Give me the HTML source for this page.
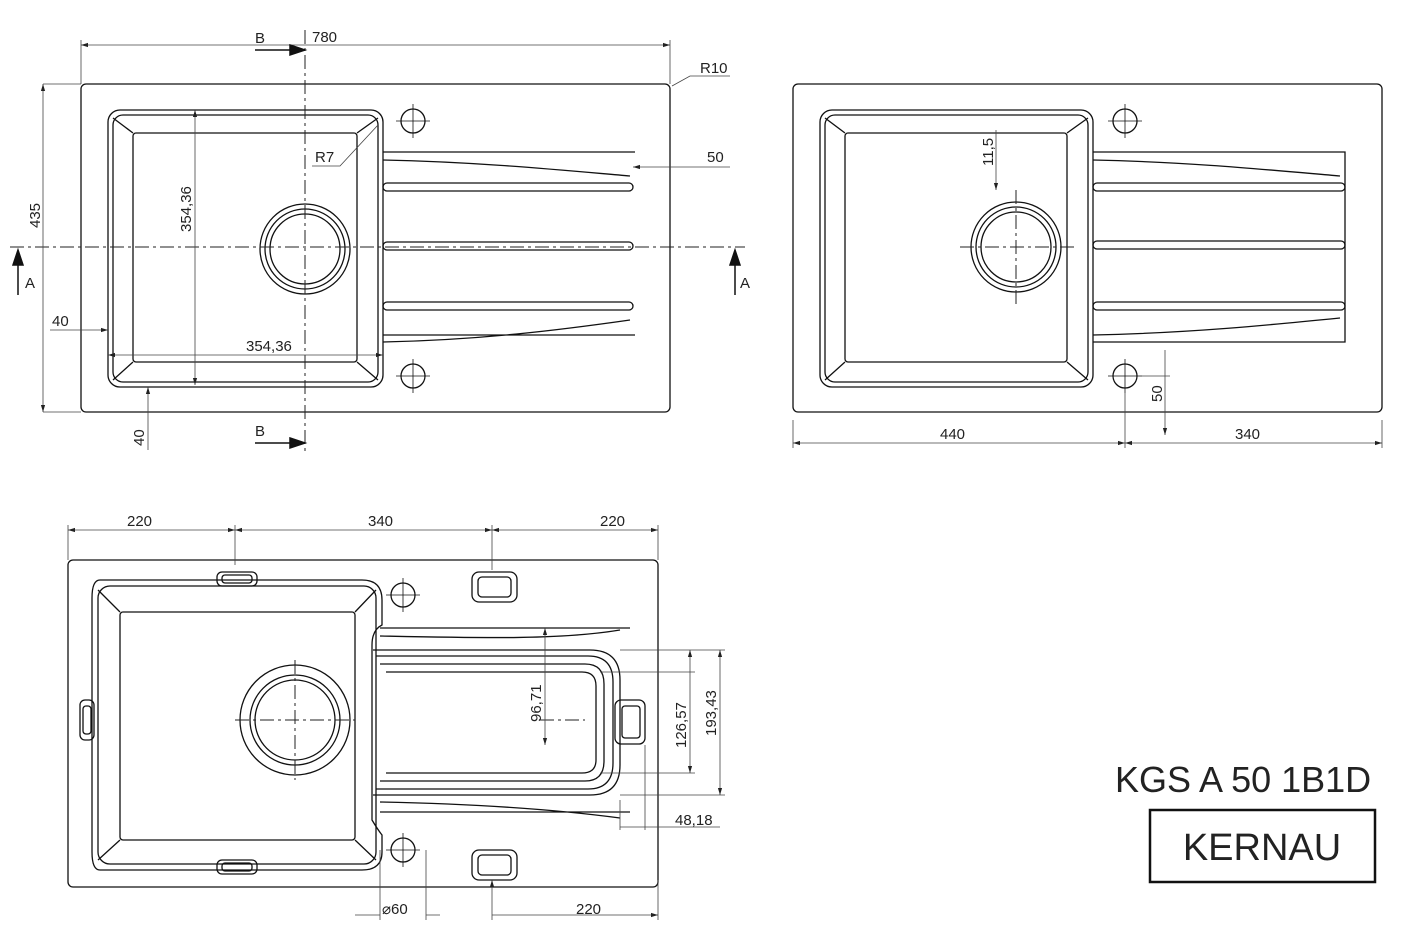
<!DOCTYPE html>
<html><head><meta charset="utf-8"><style>
html,body{margin:0;padding:0;background:#fff}
svg{display:block}
text{font-family:"Liberation Sans",sans-serif;fill:#222}
</style></head><body>
<svg width="1421" height="932" viewBox="0 0 1421 932" xmlns="http://www.w3.org/2000/svg">
<defs>
<marker id="ar" viewBox="0 0 10 10" refX="10" refY="5" markerWidth="9" markerHeight="9" orient="auto-start-reverse"><path d="M0,2 L10,5 L0,8 z" fill="#222"/></marker>
</defs>
<g fill="none" stroke="#111" stroke-width="1.3">
<!-- ========== TOP LEFT VIEW ========== -->
<rect x="81" y="84" width="589" height="328" rx="5"/>
<rect x="108" y="110" width="275" height="277" rx="12"/>
<rect x="113" y="115" width="265" height="267" rx="10"/>
<rect x="133" y="133" width="224" height="229" rx="3"/>
<path d="M113,118 L133,133 M378,118 L357,133 M113,380 L133,362 M378,380 L357,362"/>
<circle cx="305" cy="249" r="45"/><circle cx="305" cy="249" r="40"/><circle cx="305" cy="249" r="35"/>
<circle cx="413" cy="121" r="12"/><circle cx="413" cy="376" r="12"/>
<path d="M396,121 H430 M413,104 V138 M396,376 H430 M413,359 V393" stroke-width="0.8"/>
<path d="M383,152 H635 M383,160 C480,162 560,170 630,176 M383,342 C480,340 560,330 630,320 M383,335 H635"/>
<rect x="383" y="183" width="250" height="8" rx="4"/><rect x="383" y="242" width="250" height="8" rx="4"/><rect x="383" y="302" width="250" height="8" rx="4"/>
<!-- ========== TOP RIGHT VIEW ========== -->
<rect x="793" y="84" width="589" height="328" rx="5"/>
<rect x="820" y="110" width="273" height="277" rx="12"/>
<rect x="825" y="115" width="263" height="267" rx="10"/>
<rect x="845" y="133" width="222" height="229" rx="3"/>
<path d="M825,118 L845,133 M1088,118 L1067,133 M825,380 L845,362 M1088,380 L1067,362"/>
<circle cx="1016" cy="247" r="45"/><circle cx="1016" cy="247" r="40"/><circle cx="1016" cy="247" r="35"/>
<circle cx="1125" cy="121" r="12"/><circle cx="1125" cy="376" r="12"/>
<path d="M1108,121 H1142 M1125,104 V138 M1108,376 H1142 M1125,359 V393" stroke-width="0.8"/>
<path d="M1093,152 H1345 V342 H1093 M1093,160 C1190,162 1270,170 1340,176 M1093,335 C1190,333 1270,325 1340,318"/>
<rect x="1093" y="183" width="252" height="8" rx="4"/><rect x="1093" y="241" width="252" height="8" rx="4"/><rect x="1093" y="302" width="252" height="8" rx="4"/>
<!-- ========== BOTTOM VIEW ========== -->
<rect x="68" y="560" width="590" height="327" rx="5"/>
<path d="M100,580 H362 Q382,580 382,600 V625 Q372,630 372,645 V820 Q378,830 382,835 V852 Q382,870 362,870 H100 Q92,870 92,852 V598 Q92,580 100,580 Z"/>
<rect x="98" y="586" width="278" height="278" rx="12"/>
<rect x="120" y="612" width="235" height="228" rx="3"/>
<path d="M98,590 L120,612 M376,590 L355,612 M98,860 L120,840 M376,860 L355,840"/>
<circle cx="295" cy="720" r="55"/><circle cx="295" cy="720" r="45"/><circle cx="295" cy="720" r="40"/>
<circle cx="403" cy="595" r="12"/><circle cx="403" cy="850" r="12"/>
<path d="M386,595 H420 M403,578 V612 M386,850 H420 M403,833 V867" stroke-width="0.8"/>
<rect x="217" y="572" width="40" height="14" rx="5"/><rect x="222" y="575" width="30" height="8" rx="3"/>
<rect x="217" y="860" width="40" height="14" rx="5"/><rect x="222" y="863" width="30" height="8" rx="3"/>
<rect x="80" y="700" width="14" height="40" rx="5"/><rect x="83" y="706" width="8" height="28" rx="3"/>
<rect x="472" y="572" width="45" height="30" rx="7"/><rect x="478" y="577" width="33" height="20" rx="4"/>
<rect x="472" y="850" width="45" height="30" rx="7"/><rect x="478" y="855" width="33" height="20" rx="4"/>
<path d="M380,628 H630 M380,636 C480,638 560,640 620,630 M380,802 C480,804 560,810 620,818 M380,812 H630"/>
<path d="M373,650 H590 Q620,650 620,680 V765 Q620,795 590,795 H373"/>
<path d="M376,656 H588 Q613,656 613,682 V763 Q613,789 588,789 H376"/>
<path d="M380,664 H585 Q604,664 604,684 V761 Q604,781 585,781 H380"/>
<path d="M386,672 H582 Q596,672 596,686 V760 Q596,773 582,773 H386"/>
<rect x="615" y="700" width="30" height="44" rx="6"/><rect x="622" y="706" width="18" height="32" rx="3"/>
</g>
<!-- center lines -->
<g stroke="#222" stroke-width="1" stroke-dasharray="14,4,3,4" fill="none">
<path d="M10,247 H745 M305,30 V452"/>
<path d="M960,247 H1075 M1016,190 V305"/>
<path d="M235,720 H355 M295,660 V780 M540,720 H585"/>
</g>
<!-- dimension lines -->
<g stroke="#444" stroke-width="0.8" fill="none">
<path d="M81,40 V84 M670,40 V84 M43,84 H81 M43,412 H81"/>
<path d="M81,45 H670" marker-start="url(#ar)" marker-end="url(#ar)"/>
<path d="M43,84 V412" marker-start="url(#ar)" marker-end="url(#ar)"/>
<path d="M195,110 V385" marker-start="url(#ar)" marker-end="url(#ar)"/>
<path d="M108,355 H383" marker-start="url(#ar)" marker-end="url(#ar)"/>
<path d="M50,330 H108" marker-end="url(#ar)"/>
<path d="M148,387 V450" marker-start="url(#ar)"/>
<path d="M633,167 H730" marker-start="url(#ar)"/>
<path d="M672,86 L690,76 H730"/>
<path d="M312,166 H340 L378,125"/>
<path d="M793,420 V448 M1125,390 V448 M1382,420 V448"/>
<path d="M793,443 H1125" marker-start="url(#ar)" marker-end="url(#ar)"/>
<path d="M1125,443 H1382" marker-start="url(#ar)" marker-end="url(#ar)"/>
<path d="M1140,376 H1170 M1165,350 V376 M1165,376 V435" marker-end="url(#ar)"/>
<path d="M996,130 V190" marker-end="url(#ar)"/>
<path d="M68,525 V560 M235,525 V565 M492,525 V570 M658,525 V560"/>
<path d="M68,530 H235" marker-start="url(#ar)" marker-end="url(#ar)"/>
<path d="M235,530 H492" marker-start="url(#ar)" marker-end="url(#ar)"/>
<path d="M492,530 H658" marker-start="url(#ar)" marker-end="url(#ar)"/>
<path d="M492,880 V920 M658,880 V920 M492,915 H658" marker-start="url(#ar)" marker-end="url(#ar)"/>
<path d="M380,850 V920 M426,850 V920 M355,915 H380 M426,915 H440" />
<path d="M545,628 V745" marker-start="url(#ar)" marker-end="url(#ar)"/>
<path d="M620,650 H725 M620,795 H725 M600,672 H695 M600,773 H695"/>
<path d="M690,650 V773" marker-start="url(#ar)" marker-end="url(#ar)"/>
<path d="M720,650 V795" marker-start="url(#ar)" marker-end="url(#ar)"/>
<path d="M620,800 V830 M645,745 V830 M620,827 H720"/>
</g>
<!-- section arrows -->
<g stroke="#111" stroke-width="1.5" fill="#111">
<path d="M255,50 H290" /><path d="M290,45 L305,50 L290,55 z"/>
<path d="M255,443 H290" /><path d="M290,438 L305,443 L290,448 z"/>
<path d="M18,295 V265"/><path d="M13,265 L18,250 L23,265 z"/>
<path d="M735,295 V265"/><path d="M730,265 L735,250 L740,265 z"/>
</g>
<g font-size="15">
<text x="255" y="43">B</text><text x="255" y="436">B</text>
<text x="25" y="288">A</text><text x="740" y="288">A</text>
<text x="312" y="42">780</text>
<text x="700" y="73">R10</text>
<text x="707" y="162">50</text>
<text x="315" y="162">R7</text>
<text x="246" y="351">354,36</text>
<text x="52" y="326">40</text>
<text transform="translate(40,228) rotate(-90)">435</text>
<text transform="translate(191,232) rotate(-90)">354,36</text>
<text transform="translate(144,446) rotate(-90)">40</text>
<text x="940" y="439">440</text><text x="1235" y="439">340</text>
<text transform="translate(1162,402) rotate(-90)">50</text>
<text transform="translate(993,166) rotate(-90)">11,5</text>
<text x="127" y="526">220</text><text x="368" y="526">340</text><text x="600" y="526">220</text>
<text x="576" y="914">220</text>
<text x="382" y="914">⌀60</text>
<text x="675" y="825">48,18</text>
<text transform="translate(541,722) rotate(-90)">96,71</text>
<text transform="translate(686,748) rotate(-90)">126,57</text>
<text transform="translate(716,736) rotate(-90)">193,43</text>
</g>
<text x="1115" y="792" font-size="36">KGS A 50 1B1D</text>
<rect x="1150" y="810" width="225" height="72" fill="none" stroke="#111" stroke-width="2.5"/>
<text x="1262" y="860" font-size="38" text-anchor="middle">KERNAU</text>
</svg>
</body></html>
